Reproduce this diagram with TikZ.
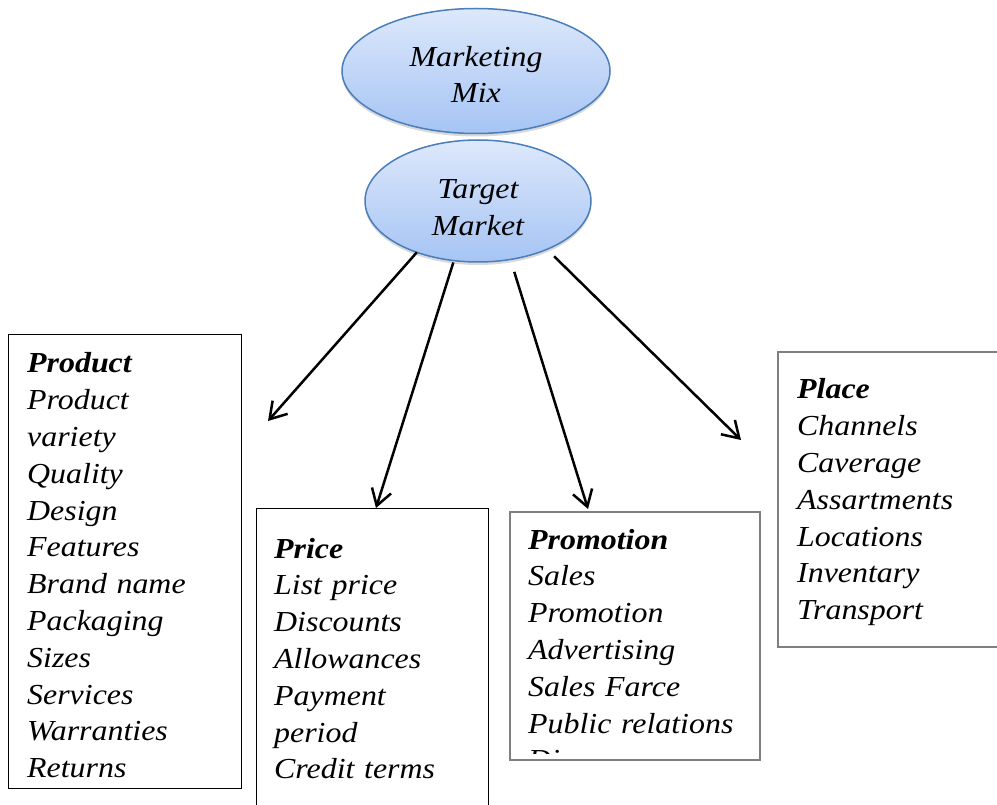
\documentclass[tikz,border=0pt]{standalone}
\usepackage{fontspec}
\setmainfont{Liberation Serif}[FakeStretch=1.1]
\usetikzlibrary{arrows.meta,shapes.geometric,shadows,calc}

\definecolor{mixline}{HTML}{4A7EBB}
\definecolor{mixtop}{HTML}{DDE8FB}
\definecolor{mixbottom}{HTML}{A6C4F4}
\definecolor{boxgray}{HTML}{7F7F7F}

\begin{document}
\begin{tikzpicture}[x=1pt, y=-1pt,
    mixellipse/.style={ellipse, draw=mixline, line width=1.5pt,
        top color=mixtop, bottom color=mixbottom, inner sep=0pt, outer sep=0pt,
        align=center, font=\fontsize{29}{36.8}\selectfont\itshape,
        drop shadow={shadow xshift=0pt, shadow yshift=-3pt, opacity=0.25, fill=black!60}},
    listbox/.style={draw, anchor=north west, inner sep=0pt, outer sep=0pt},
    listtext/.style={anchor=base west, align=left, text width=225pt, inner sep=0pt,
        font=\fontsize{29}{36.8}\selectfont\itshape},
    mixarrow/.style={-{Straight Barb[length=16pt,width=20pt]}, line width=2.5pt}]
    \useasboundingbox (0,0) rectangle (997,805);

    % Ellipses at the top
    \node[mixellipse, minimum width=268pt, minimum height=125pt] (mm) at (476,71) {\rule{0pt}{27pt}Marketing\\Mix};
    \node[mixellipse, minimum width=226pt, minimum height=122pt] (tm) at (478,201) {\rule{0pt}{33pt}Target\\Market};

    % Product
    \node[listbox, line width=1pt, minimum width=233pt, minimum height=453pt] (product) at (8,335) {};
    \node[listtext] (producttext) at (27,373) {\textbf{Product}\\Product\\variety\\Quality\\Design\\Features\\Brand name\\Packaging\\Sizes\\Services\\Warranties\\Returns};

    % Price
    \node[listbox, line width=1pt, minimum width=232pt, minimum height=330pt] (price) at (256,508) {};
    \node[listtext] (pricetext) at (274,558) {\textbf{Price}\\List price\\Discounts\\Allowances\\Payment\\period\\Credit terms};

    % Promotion
    \node[listbox, draw=boxgray, line width=1.8pt, minimum width=250pt, minimum height=248pt] (promo) at (510,512) {};
    \begin{scope}
        \clip (510,512) rectangle (760,753);
        \node[listtext] (promotext) at (528,549) {\textbf{Promotion}\\Sales\\Promotion\\Advertising\\Sales Farce\\Public relations\\Di};
    \end{scope}

    % Place
    \node[listbox, draw=boxgray, line width=1.5pt, minimum width=240pt, minimum height=295pt] (place) at (778,352) {};
    \node[listtext] (placetext) at (797,399) {\textbf{Place}\\Channels\\Caverage\\Assartments\\Locations\\Inventary\\Transport};

    % Arrows
    \coordinate (productend) at (268,421);
    \coordinate (placeend) at (741,440);
    \draw[mixarrow] (tm.220) -- (productend);
    \draw[mixarrow, shorten <=2pt] (tm.248) -- ($(price.north)+(4,0)$);
    \draw[mixarrow, shorten <=13pt] (tm.299) -- ($(promo.north west)+(78,-3)$);
    \draw[mixarrow, shorten <=10pt] (tm.325) -- (placeend);
\end{tikzpicture}
\end{document}
